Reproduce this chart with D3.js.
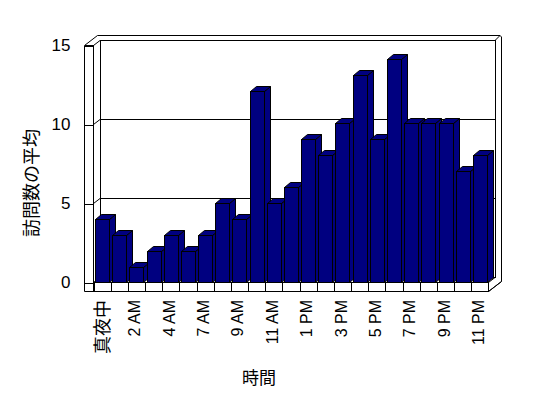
<!DOCTYPE html>
<html>
<head>
<meta charset="utf-8">
<script src="https://cdn.jsdelivr.net/npm/d3@7"></script>
<style>
  html, body { margin: 0; padding: 0; background: #fff; }
  svg { display: block; font-family: "Liberation Sans", "Noto Sans CJK JP", sans-serif; }
  .frame line, .frame path, .frame rect { stroke: #000; stroke-width: 1; }
  .frame line, .frame path { fill: none; }
</style>
</head>
<body>
<div id="chart"></div>
<script>
// 時間帯ごとの訪問数の平均 (3D 縦棒)
const hours = ["真夜中", "1 AM", "2 AM", "3 AM", "4 AM", "5 AM", "7 AM", "8 AM", "9 AM",
  "10 AM", "11 AM", "正午", "1 PM", "2 PM", "3 PM", "4 PM", "5 PM", "6 PM", "7 PM",
  "8 PM", "9 PM", "10 PM", "11 PM"];
const visits = [4, 3, 1, 2, 3, 2, 3, 5, 4, 12, 5, 6, 9, 8, 10, 13, 9, 14, 10, 10, 10, 7, 8];
const yTicks = [0, 5, 10, 15];
const yTitle = "訪問数の平均";
const xTitle = "時間";

const W = 548, H = 398;
const NAVY = "#000080";
const CJK = "'Noto Sans CJK JP', sans-serif";

// 箱の形
const wallX = 84.5;            // 左の壁の前面
const floorX0 = 93.5, floorX1 = 488.5;
const floorY = 282.5, floorBottom = 291.5;
const back = { dx: 6.5, dy: -5 };   // 奥の面までのずれ
const outer = { dx: 13, dy: -10 };
const barDepth = { dx: 6, dy: -5 };

const svg = d3.select("#chart").append("svg")
  .attr("width", W).attr("height", H)
  .attr("viewBox", `0 0 ${W} ${H}`);

const yFront = d3.scaleLinear().domain([0, 15]).range([floorY, 45.5]);
const yBack = d3.scaleLinear().domain([0, 15]).range([floorY + back.dy, 45.5 + back.dy]);
const yBar = d3.scaleLinear().domain([0, 15]).range([floorY, 43]);

const xCell = d3.scaleBand().domain(hours).range([floorX0, floorX1]);
const xBar = d3.scaleBand().domain(hours).range([floorX0, floorX1])
  .paddingInner(0.18).paddingOuter(0.09);

const frame = svg.append("g").attr("class", "frame");
const topY = yFront(15);
const backL = floorX0 + back.dx, backR = floorX1 + back.dx;

// 外枠
frame.append("path").attr("d", [
  `M${wallX},${topY}`,
  `L${wallX},${floorBottom}`,
  `L${floorX1},${floorBottom}`,
  `L${floorX1 + outer.dx},${floorBottom + outer.dy}`,
  `L${floorX1 + outer.dx},${topY + outer.dy + 1.5}`,
  `L${floorX1 + outer.dx - 1.5},${topY + outer.dy}`,
  `L${wallX + outer.dx},${topY + outer.dy}`,
  "Z"
].join(""));

// 奥の面
frame.append("rect")
  .attr("x", backL).attr("y", yBack(15))
  .attr("width", backR - backL).attr("height", yBack(0) - yBack(15))
  .attr("fill", "#fff").attr("shape-rendering", "crispEdges");

// 左の壁の内側と上面
frame.append("line").attr("x1", floorX0).attr("y1", topY).attr("x2", floorX0).attr("y2", floorY)
  .attr("shape-rendering", "crispEdges");
frame.append("line").attr("x1", wallX).attr("y1", topY).attr("x2", floorX0).attr("y2", topY)
  .attr("shape-rendering", "crispEdges");
frame.append("line").attr("x1", floorX0).attr("y1", topY).attr("x2", backL).attr("y2", yBack(15));
frame.append("line").attr("x1", backR).attr("y1", yBack(15))
  .attr("x2", floorX1 + outer.dx - 1.5).attr("y2", topY + outer.dy);

// 目盛線 (奥の面と左の壁)
yTicks.filter(v => v > 0 && v < 15).forEach(v => {
  frame.append("line").attr("x1", backL).attr("y1", yBack(v)).attr("x2", backR).attr("y2", yBack(v))
    .attr("shape-rendering", "crispEdges");
  frame.append("line").attr("x1", floorX0).attr("y1", yFront(v)).attr("x2", backL).attr("y2", yBack(v));
});

// 床
frame.append("path").attr("fill", "#fff").attr("d",
  `M${floorX0},${floorY}L${floorX1},${floorY}L${backR},${yBack(0)}L${backL},${yBack(0)}Z`);
frame.append("rect")
  .attr("x", floorX0).attr("y", floorY)
  .attr("width", floorX1 - floorX0).attr("height", floorBottom - floorY)
  .attr("fill", "#fff").attr("shape-rendering", "crispEdges");
frame.append("line").attr("x1", floorX1).attr("y1", floorBottom)
  .attr("x2", floorX1 + outer.dx).attr("y2", floorBottom + outer.dy);
hours.forEach(h => {
  const x = Math.round(xCell(h)) + 0.5;
  frame.append("line").attr("x1", x).attr("y1", floorY).attr("x2", x).attr("y2", floorBottom)
    .attr("shape-rendering", "crispEdges");
});

// Y軸
svg.append("g")
  .attr("transform", `translate(${floorX0},0)`)
  .call(d3.axisLeft(yFront).tickValues(yTicks).tickSizeInner(floorX0 - wallX)
    .tickSizeOuter(0).tickPadding(14))
  .call(g => g.select(".domain").remove())
  .call(g => g.selectAll("line").attr("stroke", "#000").attr("shape-rendering", "crispEdges"))
  .call(g => g.selectAll("text").attr("font-size", 17).attr("fill", "#000")
    .attr("font-family", "'Liberation Sans', sans-serif"));

// 棒 (左から順に、側面 → 上面 → 前面)
const bars = svg.append("g");
hours.forEach((h, i) => {
  const x0 = Math.round(xBar(h)) + 0.5, x1 = x0 + 14;
  const y0 = Math.round(yBar(visits[i])) + 0.5, yb = floorY;
  const { dx, dy } = barDepth;
  const g = bars.append("g").attr("stroke", "#000").attr("stroke-width", 1)
    .attr("fill", NAVY);
  g.append("path").attr("d", `M${x1},${yb}L${x1 + dx},${yb + dy}L${x1 + dx},${y0 + dy}L${x1},${y0}Z`);
  g.append("path").attr("d", `M${x0},${y0}L${x0 + dx},${y0 + dy}L${x1 + dx},${y0 + dy}L${x1},${y0}Z`);
  g.append("rect").attr("x", x0).attr("y", y0).attr("width", x1 - x0).attr("height", yb - y0)
    .attr("shape-rendering", "crispEdges");
});

// X軸ラベル (1つおき)
svg.append("g").selectAll("text")
  .data(hours.filter((h, i) => i % 2 === 0))
  .join("text")
  .attr("transform", d => `translate(${xCell(d) + xCell.bandwidth() / 2 - 1.5},300) rotate(-90)`)
  .attr("text-anchor", "end")
  .attr("dominant-baseline", "central")
  .attr("font-size", d => /[A-Z]/.test(d) ? 16 : 18)
  .attr("font-family", d => /[A-Z]/.test(d) ? "'Liberation Sans', sans-serif" : CJK)
  .text(d => d);

// 軸タイトル
svg.append("text")
  .attr("transform", "translate(30,183) rotate(-90)")
  .attr("text-anchor", "middle")
  .attr("dominant-baseline", "central")
  .attr("font-size", 18)
  .attr("font-family", CJK)
  .text(yTitle);

svg.append("text")
  .attr("x", 259).attr("y", 376)
  .attr("text-anchor", "middle")
  .attr("dominant-baseline", "central")
  .attr("font-size", 17)
  .attr("font-family", CJK)
  .text(xTitle);
</script>
</body>
</html>
